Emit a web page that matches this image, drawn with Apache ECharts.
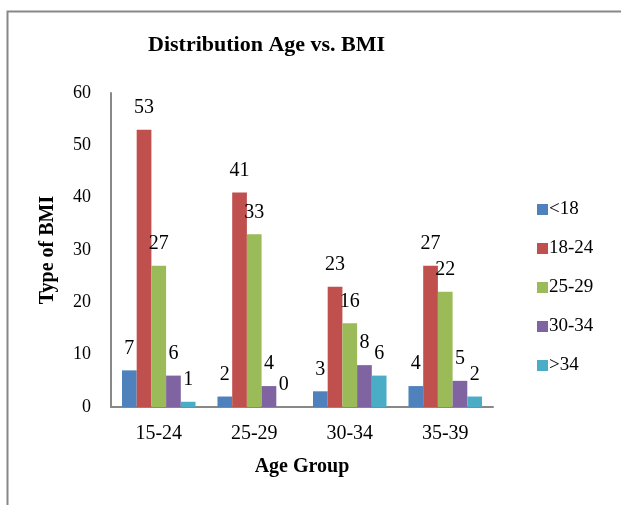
<!DOCTYPE html>
<html><head><meta charset="utf-8">
<script src="https://cdn.jsdelivr.net/npm/echarts@6/dist/echarts.min.js"></script>
<style>html,body{margin:0;padding:0;background:#fff}#c{width:621px;height:505px}</style>
</head><body><div id="c"></div>
<script>
const categories = ['15-24', '25-29', '30-34', '35-39'];
const seriesNames = ['<18', '18-24', '25-29', '30-34', '>34'];
const s_lt18 = [7, 2, 3, 4];
const s_18_24 = [53, 41, 23, 27];
const s_25_29 = [27, 33, 16, 22];
const s_30_34 = [6, 4, 8, 5];
const s_gt34 = [1, 0, 6, 2];
const colors = ['#4F81BD', '#C0504D', '#9BBB59', '#8064A2', '#4BACC6'];
const allData = [s_lt18, s_18_24, s_25_29, s_30_34, s_gt34];
const font = '"Liberation Serif", "Times New Roman", serif';

const chart = echarts.init(document.getElementById('c'), null, {renderer: 'canvas'});
chart.setOption({
  animation: false,
  textStyle: {fontFamily: font},
  graphic: [{type: 'rect', left: 5, top: 9, shape: {width: 700, height: 600}, style: {fill: 'none', stroke: '#888', lineWidth: 2}}],
  title: {text: 'Distribution Age vs. BMI', left: 143, top: 29,
    textStyle: {fontFamily: font, fontWeight: 'bold', fontSize: 22, color: '#000'}},
  legend: {orient: 'vertical', left: 532, top: 195, itemWidth: 11, itemHeight: 11, itemGap: 20,
    icon: 'rect', data: seriesNames,
    textStyle: {fontFamily: font, fontSize: 19, color: '#000', padding: [0, 0, 0, -4]}},
  grid: {left: 111, right: 128, top: 93, bottom: 98, containLabel: false},
  xAxis: {type: 'category', data: categories,
    axisLine: {lineStyle: {color: '#888', width: 2}}, axisTick: {show: false},
    axisLabel: {fontFamily: font, fontSize: 20, color: '#000', margin: 17},
    name: 'Age Group', nameLocation: 'middle', nameGap: 50,
    nameTextStyle: {fontFamily: font, fontWeight: 'bold', fontSize: 20, color: '#000'}},
  yAxis: {type: 'value', min: 0, max: 60, interval: 10,
    axisLine: {show: true, lineStyle: {color: '#888', width: 2}}, axisTick: {show: false},
    splitLine: {show: false},
    axisLabel: {fontFamily: font, fontSize: 18, color: '#000', margin: 20},
    name: 'Type of BMI', nameLocation: 'middle', nameGap: 53, nameRotate: 90,
    nameTextStyle: {fontFamily: font, fontWeight: 'bold', fontSize: 20, color: '#000'}},
  series: seriesNames.map((n, i) => ({
    name: n, type: 'bar', data: allData[i], barGap: '0%', barCategoryGap: '23%',
    itemStyle: {color: colors[i]},
    label: {show: true, position: 'top', distance: 12, fontFamily: font, fontSize: 20, color: '#000'}
  }))
});
</script></body></html>
